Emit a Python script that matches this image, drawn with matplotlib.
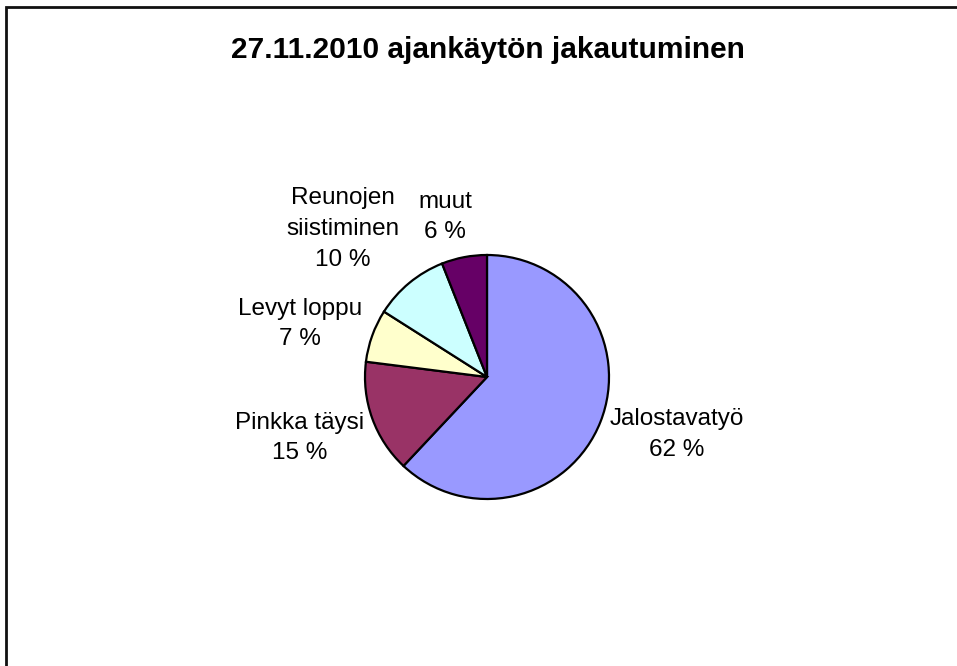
import matplotlib
matplotlib.use("Agg")
import matplotlib.pyplot as plt
import numpy as np
from matplotlib.patches import Rectangle

plt.rcParams['font.family'] = ['Liberation Sans', 'DejaVu Sans']

title = "27.11.2010 ajankäytön jakautuminen"
categories = ["Jalostavatyö", "Pinkka täysi", "Levyt loppu", "Reunojen\nsiistiminen", "muut"]
values = [62, 15, 7, 10, 6]
colors = ["#9999FF", "#993366", "#FFFFCC", "#CCFFFF", "#660066"]

# label placement (in pie-radius units, relative to centre)
label_pos = [(1.557, -0.47), (-1.533, -0.5), (-1.533, 0.434), (-1.18, 1.213), (-0.344, 1.311)]

W, H = 957, 666
fig = plt.figure(figsize=(W / 100, H / 100), dpi=100)

cx, cy, R = 487, 377, 122
ax = fig.add_axes([(cx - R) / W, (H - cy - R) / H, 2 * R / W, 2 * R / H])
ax.pie(values, colors=colors, startangle=90, counterclock=False, radius=1,
       wedgeprops=dict(edgecolor="black", linewidth=1.6))
ax.set_xlim(-1, 1)
ax.set_ylim(-1, 1)
ax.set_axis_off()

for cat, v, (lx, ly) in zip(categories, values, label_pos):
    ax.text(lx, ly, f"{cat}\n{v} %", ha="center", va="center", fontsize=17.5,
            linespacing=1.52, clip_on=False)

fig.text(488 / W, 1 - 50 / H, title, ha="center", va="center", fontsize=21.5, fontweight="bold")

fig.patches.append(Rectangle((6 / W, -0.2), 1.3, 1 - 7 / H + 0.2, transform=fig.transFigure,
                             fill=False, edgecolor="#111111", linewidth=2.0))

fig.savefig("out.png", dpi=100)
